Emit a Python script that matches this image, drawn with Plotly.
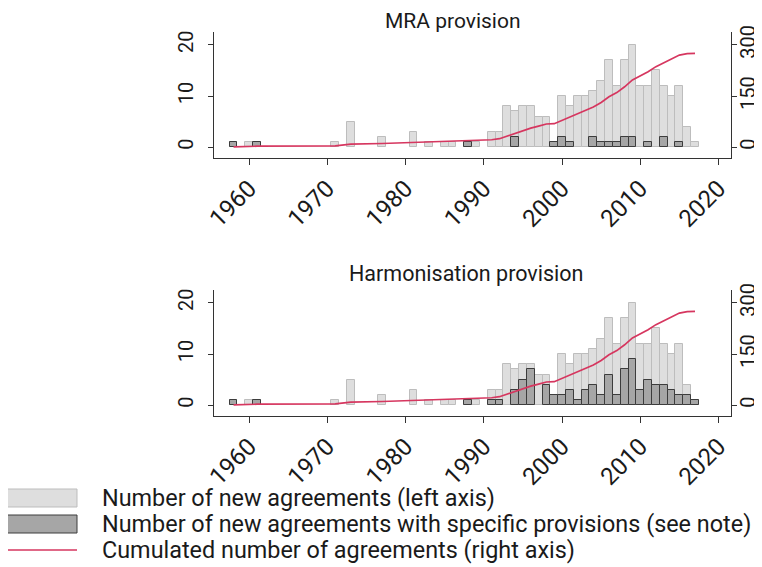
import itertools
import plotly.graph_objects as go

# ---------------- data ----------------
years = [1958, 1960, 1961, 1971, 1973, 1977, 1981, 1983, 1985, 1986, 1988, 1989,
         1991, 1992, 1993, 1994, 1995, 1996, 1997, 1998, 1999, 2000, 2001, 2002,
         2003, 2004, 2005, 2006, 2007, 2008, 2009, 2010, 2011, 2012, 2013, 2014,
         2015, 2016, 2017]
new_agreements = [1, 1, 1, 1, 5, 2, 3, 1, 1, 1, 1, 1,
                  3, 3, 8, 7, 8, 8, 6, 6, 1, 10, 8, 10,
                  10, 11, 13, 17, 12, 17, 20, 12, 12, 15, 12, 10,
                  12, 4, 1]
cumulated = list(itertools.accumulate(new_agreements))

mra_years = [1958, 1961, 1988, 1994, 1999, 2000, 2001, 2004, 2005, 2006, 2007,
             2008, 2009, 2011, 2013, 2015]
mra_values = [1, 1, 1, 2, 1, 2, 1, 2, 1, 1, 1, 2, 2, 1, 2, 1]

harm_years = [1958, 1961, 1988, 1991, 1992, 1994, 1995, 1996, 1998, 1999, 2000,
              2001, 2002, 2003, 2004, 2005, 2006, 2007, 2008, 2009, 2010, 2011,
              2012, 2013, 2014, 2015, 2016, 2017]
harm_values = [1, 1, 1, 1, 1, 3, 5, 7, 4, 2, 2, 3, 1, 3, 4, 2, 6, 2, 7, 9, 3, 5,
               4, 4, 3, 2, 2, 1]

panel_titles = ["MRA provision", "Harmonisation provision"]
x_ticks = [1960, 1970, 1980, 1990, 2000, 2010, 2020]
left_ticks = [0, 10, 20]
right_ticks = [0, 150, 300]
legend_labels = ["Number of new agreements (left axis)",
                 "Number of new agreements with specific provisions (see note)",
                 "Cumulated number of agreements (right axis)"]

# ---------------- styling ----------------
OFF = 8                      # page body margin
W, H = 762 - OFF, 567 - OFF
FONT = "Roboto"
TXT = "#1a1a1a"
LIGHT_FILL, LIGHT_LINE = "#dedede", "#bdbdbd"
DARK_FILL, DARK_LINE = "#a6a6a6", "#3c3c3c"
RED = "#d6365f"
AX = "#333333"


def px(x):
    return (x - OFF) / W


def py(y):
    return 1 - (y - OFF) / H


fig = go.Figure()

panels = [
    (mra_years, mra_values, "x", "y", "y2", 32, 158),
    (harm_years, harm_values, "x2", "y3", "y4", 290, 416),
]

layout_axes = {}
for i, (sy, sv, xa, ya, ya2, top, bot) in enumerate(panels):
    fig.add_trace(go.Bar(x=years, y=new_agreements, width=1, opacity=1,
                         marker=dict(color=LIGHT_FILL, line=dict(color=LIGHT_LINE, width=1)),
                         xaxis=xa, yaxis=ya, showlegend=False))
    fig.add_trace(go.Bar(x=sy, y=sv, width=1, opacity=1,
                         marker=dict(color=DARK_FILL, line=dict(color=DARK_LINE, width=1)),
                         xaxis=xa, yaxis=ya, showlegend=False))
    fig.add_trace(go.Scatter(x=years, y=cumulated, mode="lines",
                             line=dict(color=RED, width=1.7),
                             xaxis=xa, yaxis=ya2, showlegend=False))

    xname = "xaxis" if xa == "x" else "xaxis2"
    yname = "yaxis" if ya == "y" else "yaxis3"
    y2name = "yaxis2" if ya2 == "y2" else "yaxis4"
    xfont = dict(family=FONT, size=24, color=TXT)
    yfont = dict(family=FONT, size=20, color=TXT)
    layout_axes[xname] = dict(
        domain=[px(214), px(731)], range=[1955.5, 2021.6], anchor=ya,
        tickvals=x_ticks, ticktext=[str(t) for t in x_ticks], tickangle=-45,
        ticks="outside", ticklen=6, tickcolor=AX, showline=True, linecolor=AX,
        linewidth=1, showgrid=False, zeroline=False, tickfont=xfont,
        automargin=False)
    layout_axes[yname] = dict(
        domain=[py(bot), py(top)], range=[-2.1, 22.5], anchor=xa,
        tickvals=left_ticks, tickangle=-90, ticks="outside", ticklen=5,
        tickcolor=AX, showline=True, linecolor=AX, linewidth=1, showgrid=False,
        zeroline=False, tickfont=yfont, automargin=False, ticklabelstandoff=7)
    layout_axes[y2name] = dict(
        overlaying=ya, side="right", anchor=xa, range=[-31.5, 337.5],
        tickvals=right_ticks, tickangle=-90, ticks="outside", ticklen=5,
        tickcolor=AX, showline=True, linecolor=AX, linewidth=1, showgrid=False,
        zeroline=False, tickfont=yfont, automargin=False, ticklabelstandoff=-6)

annotations = [
    dict(text=panel_titles[0], x=px(453), y=py(8), xref="paper", yref="paper",
         showarrow=False, xanchor="center", yanchor="top", borderpad=0,
         font=dict(family=FONT, size=21, color=TXT)),
    dict(text=panel_titles[1], x=px(466), y=py(273), xref="paper", yref="paper",
         showarrow=False, xanchor="center", yanchor="middle",
         font=dict(family=FONT, size=21.5, color=TXT)),
]
legend_y = [498, 524, 550]
for lab, yy in zip(legend_labels, legend_y):
    annotations.append(dict(text=lab, x=px(100), y=py(yy), xref="paper", yref="paper",
                            showarrow=False, xanchor="left", yanchor="middle",
                            font=dict(family=FONT, size=23.4, color=TXT)))

shapes = [
    dict(type="rect", xref="paper", yref="paper", x0=px(7), x1=px(77),
         y0=py(507), y1=py(489), fillcolor=LIGHT_FILL,
         line=dict(color=LIGHT_LINE, width=1)),
    dict(type="rect", xref="paper", yref="paper", x0=px(7), x1=px(77),
         y0=py(533), y1=py(515), fillcolor=DARK_FILL,
         line=dict(color=DARK_LINE, width=1)),
    dict(type="line", xref="paper", yref="paper", x0=px(7), x1=px(77),
         y0=py(550), y1=py(550), line=dict(color=RED, width=1.7)),
]

fig.update_layout(
    width=W, height=H, margin=dict(l=0, r=0, t=0, b=0),
    paper_bgcolor="white", plot_bgcolor="white", barmode="overlay",
    bargap=0, showlegend=False, annotations=annotations, shapes=shapes,
    font=dict(family=FONT, color=TXT), **layout_axes)

fig.write_html("out.html")
